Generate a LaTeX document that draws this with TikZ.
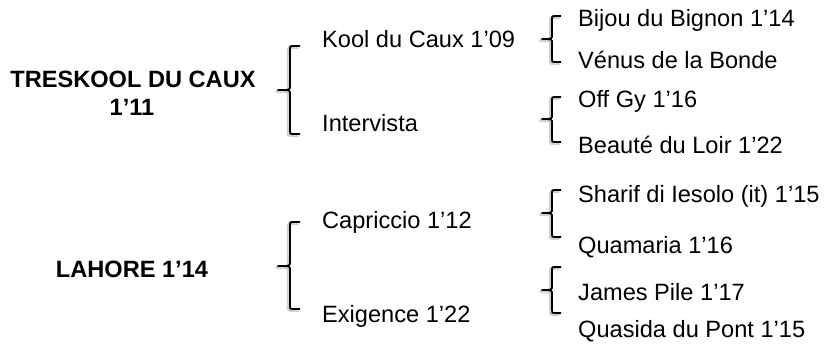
\documentclass[tikz,border=0pt]{standalone}
\usepackage{fontspec}
\setmainfont{Liberation Sans}
\newcommand\mybrace[6]{% #1 vertical x, #2 top y, #3 mid y, #4 bottom y, #5 tip x, #6 hook x
  \draw[braceshadow] (#6-1.5,#2-1.5) -- (#1+1.5,#2-1.5) .. controls (#1-1.5,#2-1.5) .. (#1-1.5,#2-4.5) -- (#1-1.5,#3+2.5) .. controls (#1-1.5,#3-1.5) .. (#5-1.5,#3-1.5) .. controls (#1-1.5,#3-1.5) .. (#1-1.5,#3-5.5) -- (#1-1.5,#4+2.5) .. controls (#1-1.5,#4-1.5) .. (#1+1.5,#4-1.5) -- (#6-1.5,#4-1.5);
  \draw[bracestyle] (#6,#2) -- (#1+3,#2) .. controls (#1,#2) .. (#1,#2-3) -- (#1,#3+4) .. controls (#1,#3) .. (#5,#3) .. controls (#1,#3) .. (#1,#3-4) -- (#1,#4+3) .. controls (#1,#4) .. (#1+3,#4) -- (#6,#4);
}
\begin{document}
\begin{tikzpicture}[x=1pt,y=1pt,
  lab/.style={inner sep=0pt,anchor=base west,font=\fontsize{23.6}{28}\selectfont},
  root/.style={inner sep=0pt,anchor=base,font=\fontsize{23.6}{28}\selectfont\bfseries,align=center},
  bracestyle/.style={draw=black,line width=1.8pt,line join=round},
  braceshadow/.style={draw=black!18,line width=3.2pt,line join=round}]
\useasboundingbox (0,0) rectangle (825,346);
% roots (y measured from top: use 346-y)
\node[root] (r1) at (133,346-88) {TRESKOOL DU CAUX};
\node[root] (r1b) at (132,346-116) {1’11};
\node[root] (r2) at (132,346-277) {LAHORE 1’14};
% level 1
\node[lab] (a1) at (322,346-48) {Kool du Caux 1’09};
\node[lab] (a2) at (322,346-132) {Intervista};
\node[lab] (a3) at (322,346-228) {Capriccio 1’12};
\node[lab] (a4) at (322,346-322) {Exigence 1’22};
% level 2
\node[lab] (b1) at (578,346-27) {Bijou du Bignon 1’14};
\node[lab] (b2) at (578,346-69) {Vénus de la Bonde};
\node[lab] (b3) at (578,346-108) {Off Gy 1’16};
\node[lab] (b4) at (578,346-154) {Beauté du Loir 1’22};
\node[lab] (b5) at (578,346-203) {Sharif di Iesolo (it) 1’15};
\node[lab] (b6) at (578,346-253) {Quamaria 1’16};
\node[lab] (b7) at (578,346-300) {James Pile 1’17};
\node[lab] (b8) at (578,346-337) {Quasida du Pont 1’15};
% braces level 1
\mybrace{290}{346-46}{346-90}{346-134}{278}{300}
\mybrace{290}{346-222}{346-266}{346-309}{278}{300}
% braces level 2
\mybrace{552}{346-16}{346-39}{346-62}{542}{561}
\mybrace{552}{346-97}{346-119}{346-142}{542}{561}
\mybrace{552}{346-190}{346-213}{346-237}{542}{561}
\mybrace{552}{346-267}{346-290}{346-313}{542}{561}
\end{tikzpicture}
\end{document}
